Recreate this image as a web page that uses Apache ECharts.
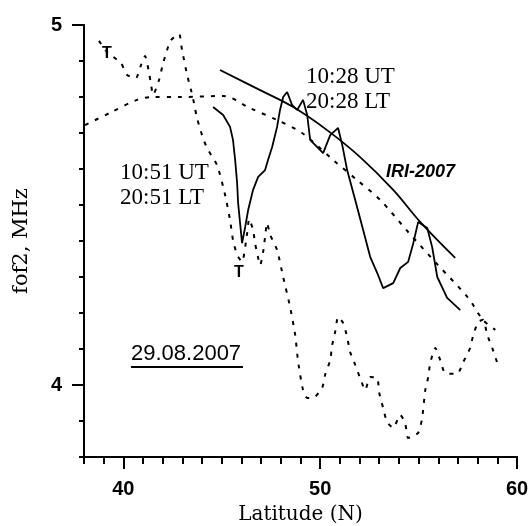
<!DOCTYPE html>
<html>
<head>
<meta charset="utf-8">
<script src="https://cdn.jsdelivr.net/npm/echarts@6/dist/echarts.min.js"></script>
<style>
html,body{margin:0;padding:0;background:#fff;}
#c{width:528px;height:526px;}
</style>
</head>
<body>
<div id="c"></div>
<script>
// 10:51 UT (dotted, noisy)
const lat1051 = [38.76,39.17,39.88,40.19,40.64,40.9,41.1,41.3,41.41,41.51,41.81,41.97,42.17,42.42,42.83,42.98,43.24,43.44,43.59,43.74,44.0,44.25,44.76,45.17,45.42,45.57,45.78,46.03,46.29,46.39,46.59,46.69,46.85,46.95,47.1,47.2,47.3,47.46,47.81,48.12,48.47,48.73,48.88,49.13,49.34,49.64,50.1,50.25,50.51,50.61,50.76,50.91,51.17,51.37,51.52,51.78,52.03,52.29,52.54,52.9,53.0,53.2,53.4,53.71,54.07,54.32,54.47,54.98,55.18,55.34,55.49,55.59,55.85,56.1,56.35,56.96,57.27,57.62,57.78,58.03,58.28,58.49,58.74,59.0];
const fof1051 = [4.956,4.925,4.894,4.861,4.853,4.889,4.914,4.869,4.833,4.806,4.847,4.883,4.922,4.958,4.975,4.931,4.861,4.819,4.783,4.742,4.694,4.658,4.611,4.528,4.458,4.403,4.361,4.342,4.422,4.461,4.431,4.394,4.353,4.333,4.369,4.411,4.45,4.417,4.375,4.3,4.217,4.139,4.064,3.986,3.964,3.964,3.992,4.028,4.069,4.111,4.147,4.189,4.172,4.133,4.092,4.056,4.019,3.986,4.022,4.019,3.978,3.936,3.897,3.881,3.917,3.894,3.853,3.867,3.908,3.986,4.022,4.061,4.103,4.069,4.033,4.031,4.064,4.103,4.139,4.175,4.181,4.139,4.103,4.061];

// smooth dotted curve
const latModel = [38.05,39.32,40.69,41.46,42.88,45.07,46.44,47.81,49.08,50.66,51.88,53.05,54.47,55.99,57.52,58.28,58.9];
const fofModel = [4.722,4.756,4.792,4.8,4.8,4.803,4.769,4.736,4.7,4.625,4.569,4.514,4.425,4.333,4.242,4.18,4.153];

// 10:28 UT (solid, noisy)
const lat1028 = [44.56,45.07,45.42,45.57,45.68,45.78,45.83,45.93,46.03,46.19,46.34,46.59,46.85,47.2,47.35,47.56,47.81,47.96,48.12,48.32,48.57,48.83,49.13,49.34,49.49,50.15,50.51,50.91,51.12,51.37,51.78,52.18,52.54,52.9,53.2,53.71,54.07,54.47,54.73,54.98,55.44,55.69,55.95,56.45,57.12];
const fof1028 = [4.772,4.75,4.717,4.681,4.625,4.561,4.506,4.45,4.394,4.439,4.486,4.542,4.578,4.597,4.625,4.661,4.717,4.764,4.8,4.814,4.778,4.764,4.792,4.75,4.681,4.644,4.694,4.714,4.667,4.597,4.514,4.431,4.356,4.311,4.269,4.283,4.325,4.342,4.394,4.453,4.436,4.383,4.3,4.242,4.208];

// IRI-2007 (solid)
const latIRI = [44.91,46.95,48.63,50.35,52.03,53.71,55.08,56.86];
const fofIRI = [4.875,4.819,4.772,4.708,4.633,4.542,4.453,4.353];

const xMajor = [40,50,60];
const yMajor = [4,5];

function zip(a,b){return a.map((v,i)=>[v,b[i]]);}

const chart = echarts.init(document.getElementById('c'), null, {renderer:'canvas'});
const dotted = {color:'#000', width:2, type:[4,7], cap:'butt'};
const solid = {color:'#000', width:1.8};
const serif = '"DejaVu Serif", serif';
const serif2 = '"Liberation Serif", serif';
const sans = '"Liberation Sans", Arial, sans-serif';
const gridBox = {left:84,right:11,top:25,bottom:69,containLabel:false,outerBoundsMode:'none'};

chart.setOption({
  backgroundColor:'#fff',
  animation:false,
  grid:[Object.assign({},gridBox), Object.assign({},gridBox)],
  xAxis:[{
    gridIndex:0, type:'value', min:38, max:60,
    axisLine:{show:true,lineStyle:{color:'#000',width:2}},
    axisTick:{show:true,customValues:xMajor,length:12,lineStyle:{color:'#000',width:2}},
    axisLabel:{customValues:xMajor,color:'#000',fontFamily:sans,fontWeight:'bold',fontSize:20,margin:22},
    splitLine:{show:false},
    name:'Latitude (N)', nameLocation:'middle', nameGap:48,
    nameTextStyle:{color:'#000',fontFamily:serif,fontSize:20}
  },{
    gridIndex:1, type:'value', min:38, max:60, interval:1,
    axisLine:{show:true,lineStyle:{color:'#000',width:2}},
    axisTick:{show:true,length:7,lineStyle:{color:'#000',width:2}},
    axisLabel:{show:false}, splitLine:{show:false}
  }],
  yAxis:[{
    gridIndex:0, type:'value', min:3.8, max:5,
    axisLine:{show:true,lineStyle:{color:'#000',width:2}},
    axisTick:{show:true,customValues:yMajor,length:12,lineStyle:{color:'#000',width:2}},
    axisLabel:{customValues:yMajor,color:'#000',fontFamily:sans,fontWeight:'bold',fontSize:20,margin:22},
    splitLine:{show:false},
    name:'fof2, MHz', nameLocation:'middle', nameGap:52,
    nameTextStyle:{color:'#000',fontFamily:serif,fontSize:21}
  },{
    gridIndex:1, type:'value', min:3.8, max:5, interval:0.1,
    axisLine:{show:true,lineStyle:{color:'#000',width:2}},
    axisTick:{show:true,length:5,lineStyle:{color:'#000',width:2}},
    axisLabel:{show:false}, splitLine:{show:false}
  }],
  series:[
    {type:'line', name:'10:51 UT', data:zip(lat1051,fof1051), showSymbol:false, symbol:'none', lineStyle:dotted, smooth:0.2},
    {type:'line', name:'model', data:zip(latModel,fofModel), showSymbol:false, symbol:'none', lineStyle:dotted, smooth:0.3},
    {type:'line', name:'10:28 UT', data:zip(lat1028,fof1028), showSymbol:false, symbol:'none', lineStyle:solid},
    {type:'line', name:'IRI-2007', xAxisIndex:1, yAxisIndex:1, data:zip(latIRI,fofIRI), showSymbol:false, symbol:'none', lineStyle:solid, smooth:0.4}
  ],
  graphic:[
    {type:'text', left:120, top:160, style:{text:'10:51 UT\n20:51 LT', font:'23px '+serif2, fill:'#000', lineHeight:25}},
    {type:'text', left:306, top:64, style:{text:'10:28 UT\n20:28 LT', font:'23px '+serif2, fill:'#000', lineHeight:25}},
    {type:'text', left:386, top:163, style:{text:'IRI-2007', font:'italic bold 18px '+sans, fill:'#000'}},
    {type:'text', left:131, top:343, style:{text:'29.08.2007', font:'22px '+sans, fill:'#000'}},
    {type:'line', shape:{x1:131,y1:367,x2:243,y2:367}, style:{stroke:'#000',lineWidth:2}},
    {type:'text', left:102, top:46, style:{text:'T', font:'bold 16px '+sans, fill:'#000'}},
    {type:'text', left:234, top:265, style:{text:'T', font:'bold 16px '+sans, fill:'#000'}}
  ]
});
</script>
</body>
</html>
